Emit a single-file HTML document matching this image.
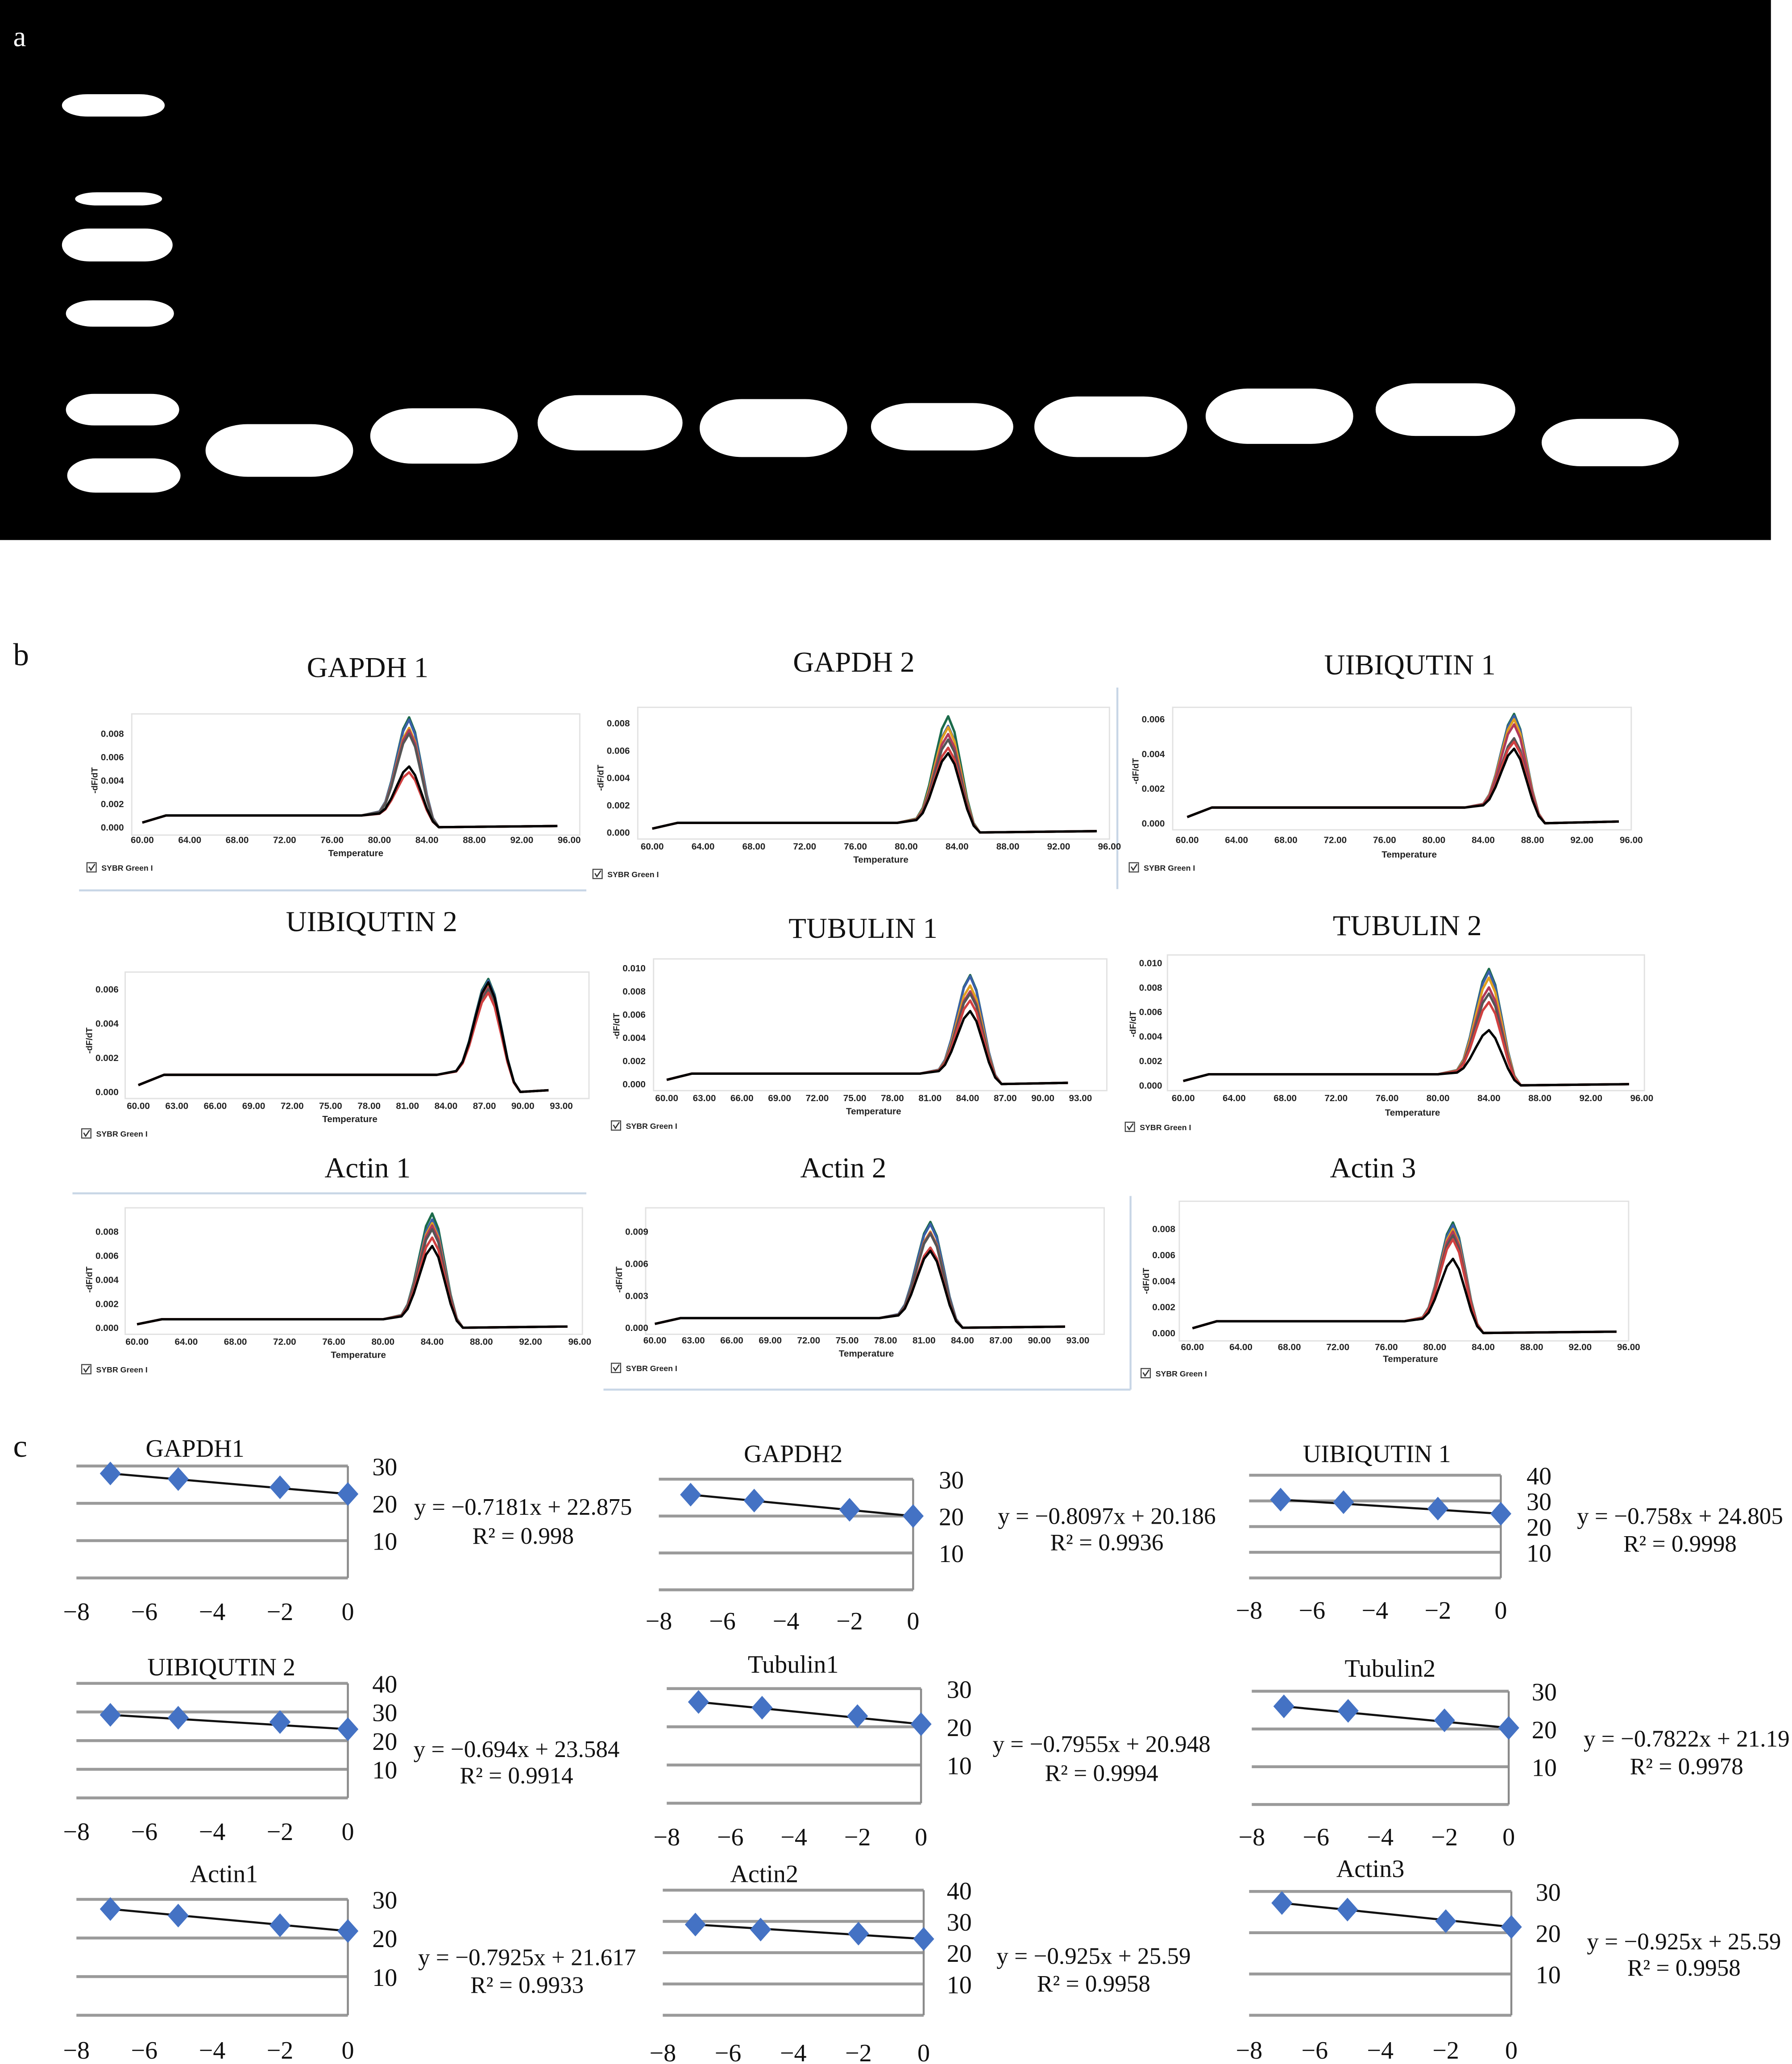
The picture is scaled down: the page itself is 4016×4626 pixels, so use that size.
<!DOCTYPE html>
<html><head><meta charset="utf-8">
<style>
html,body{margin:0;padding:0;background:#fff;}
svg{display:block;}
text{font-family:"Liberation Serif",serif;fill:#111;}
.sm{font-family:"Liberation Sans",sans-serif;font-weight:bold;fill:#222;}
</style></head>
<body>
<svg id="fig" width="4016" height="4626" viewBox="0 0 1360 1567" preserveAspectRatio="none" xmlns="http://www.w3.org/2000/svg">
<rect x="0" y="0" width="1360" height="1567" fill="#fff"/>
<g id="gel">
<rect x="0" y="0" width="1344" height="410" fill="#000"/>
<text x="10" y="35" font-size="22" style="fill:#fff">a</text>
</g>
<text x="10" y="505" font-size="24">b</text>
<text x="10" y="1106" font-size="24">c</text>
<g id="melt"></g>
<g id="std"></g>
</svg>
<script>
// ---- gel bands data ----
const ladderBands = [[86,80,78,17],[90,151,66,10],[89,186,84,25],[91,238,82,20],[93,311,86,24],[94,361,86,26]];
const sampleBands = [[212,342,112,40],[337,331,112,42],[463,321,110,42],[587,325,112,44],[715,324,108,36],[843,324,116,46],[971,316,112,42],[1097,311,106,40],[1222,336,104,36]];

// ---- melt curve data ----
const meltTitles = ["GAPDH 1","GAPDH 2","UIBIQUTIN 1","UIBIQUTIN 2","TUBULIN 1","TUBULIN 2","Actin 1","Actin 2","Actin 3"];
const meltPeakTemps = [82.5,83.3,86.5,87.3,84.2,84.0,84.0,81.5,81.5];
const meltPeakHeights = [
 [0.0094,0.0092,0.0085,0.0083,0.0080,0.0047,0.0052],
 [0.0085,0.0078,0.0077,0.0072,0.0068,0.0062,0.0058],
 [0.0063,0.0062,0.0060,0.0057,0.0049,0.0047,0.0043],
 [0.0066,0.0065,0.0063,0.0061,0.0060,0.0058,0.0064],
 [0.0094,0.0093,0.0085,0.0080,0.0078,0.0072,0.0063],
 [0.0095,0.0093,0.0088,0.0080,0.0075,0.0068,0.0045],
 [0.0095,0.0090,0.0087,0.0085,0.0082,0.0075,0.0068],
 [0.0099,0.0097,0.0090,0.0089,0.0088,0.0075,0.0072],
 [0.0085,0.0083,0.0080,0.0078,0.0075,0.0072,0.0057]];
const meltBaselines = [0.0010,0.0007,0.0009,0.0010,0.0009,0.0009,0.0007,0.0009,0.0009];
const seriesColors = ["#1b6b4a","#3a5fa8","#e0a020","#b03a5a","#555","#d04040","#000"];
const peakOffsets = [-4,-2.5,-2,-1.5,-1,-0.5,0,0.5,1,1.5,2,2.5];
const peakFractions = [0,0.04,0.14,0.35,0.62,0.88,1,0.87,0.58,0.28,0.07,0];
const baseFractions = [1,1,1,1,1,1,1,0.8,0.6,0.4,0.2,0];
const meltYTicks = [[0,0.002,0.004,0.006,0.008],[0,0.002,0.004,0.006,0.008],[0,0.002,0.004,0.006],[0,0.002,0.004,0.006],[0,0.002,0.004,0.006,0.008,0.010],[0,0.002,0.004,0.006,0.008,0.010],[0,0.002,0.004,0.006,0.008],[0,0.003,0.006,0.009],[0,0.002,0.004,0.006,0.008]];
const meltXTicksA = [60,64,68,72,76,80,84,88,92,96];
const meltXTicksB = [60,63,66,69,72,75,78,81,84,87,90,93];
const meltXTickSet = [0,0,0,1,1,0,0,1,0];
// layout (pixel geometry, not data)
const meltLayout = [
 {tx:279,ty:514,bx:100,bx2:440,by:542,by2:634,x0:108,x1:432,t1:96,y0:628,yt:557,lx:94,xl:640,tmp:650,cbx:66,cby:661,sep:[60,676,445,676]},
 {tx:648,ty:510,bx:484,bx2:842,by:537,by2:637,x0:495,x1:842,t1:96,y0:632,yt:549,lx:478,xl:645,tmp:655,cbx:450,cby:666,sep:[848,522,848,675]},
 {tx:1070,ty:512,bx:890,bx2:1238,by:537,by2:630,x0:901,x1:1238,t1:96,y0:625,yt:546,lx:884,xl:640,tmp:651,cbx:857,cby:661,sep:null},
 {tx:282,ty:707,bx:95,bx2:447,by:738,by2:834,x0:105,x1:426,t1:93,y0:829,yt:751,lx:90,xl:842,tmp:852,cbx:62,cby:863,sep:null},
 {tx:655,ty:712,bx:496,bx2:840,by:728,by2:828,x0:506,x1:820,t1:93,y0:823,yt:735,lx:490,xl:836,tmp:846,cbx:464,cby:857,sep:null},
 {tx:1068,ty:710,bx:886,bx2:1248,by:725,by2:828,x0:898,x1:1246,t1:96,y0:824,yt:731,lx:882,xl:836,tmp:847,cbx:854,cby:858,sep:null},
 {tx:279,ty:894,bx:95,bx2:442,by:917,by2:1013,x0:104,x1:440,t1:96,y0:1008,yt:935,lx:90,xl:1021,tmp:1031,cbx:62,cby:1042,sep:[55,906,445,906]},
 {tx:640,ty:894,bx:490,bx2:838,by:917,by2:1013,x0:497,x1:818,t1:93,y0:1008,yt:935,lx:492,xl:1020,tmp:1030,cbx:464,cby:1041,sep:[458,1055,858,1055]},
 {tx:1042,ty:894,bx:895,bx2:1236,by:912,by2:1018,x0:905,x1:1236,t1:96,y0:1012,yt:933,lx:892,xl:1025,tmp:1034,cbx:866,cby:1045,sep:[858,908,858,1055]}];

// ---- standard curve data ----
const stdTitles = ["GAPDH1","GAPDH2","UIBIQUTIN 1","UIBIQUTIN 2","Tubulin1","Tubulin2","Actin1","Actin2","Actin3"];
const stdX = [-7,-5,-2,0];
const stdY = [[28,26.5,24.3,22.5],[25.8,24.2,21.7,20],[30.5,29.5,27,25],[29,28,26.5,24],[26.5,25,22.8,20.7],[26,24.8,22.3,20.3],[27.5,25.8,23.3,21.8],[29,27.4,26.1,24.4],[27.2,25.6,22.8,21.4]];
const stdSlope = [-0.7181,-0.8097,-0.758,-0.694,-0.7955,-0.7822,-0.7925,-0.925,-0.925];
const stdIntercept = [22.875,20.186,24.805,23.584,20.948,21.19,21.617,25.59,25.59];
const stdR2 = ["0.998","0.9936","0.9998","0.9914","0.9994","0.9978","0.9933","0.9958","0.9958"];
const stdYMax = [30,30,40,40,30,30,30,40,30];
const stdXTicks = [-8,-6,-4,-2,0];
const stdLayout = [
 {x0:58,x1:264,top:1113,bot:1198,tx:148,ty:1106,lx:292,ex:397,ey:1150,ry:1172,xt:1230},
 {x0:500,x1:693,top:1123,bot:1207,tx:602,ty:1110,lx:722,ex:840,ey:1157,ry:1177,xt:1237},
 {x0:948,x1:1139,top:1120,bot:1198,tx:1045,ty:1110,lx:1168,ex:1275,ey:1157,ry:1178,xt:1229},
 {x0:58,x1:264,top:1278,bot:1365,tx:168,ty:1272,lx:292,ex:392,ey:1334,ry:1354,xt:1397},
 {x0:506,x1:699,top:1282,bot:1369,tx:602,ty:1270,lx:728,ex:836,ey:1330,ry:1352,xt:1401},
 {x0:950,x1:1145,top:1284,bot:1370,tx:1055,ty:1273,lx:1172,ex:1280,ey:1326,ry:1347,xt:1401},
 {x0:58,x1:264,top:1442,bot:1530,tx:170,ty:1429,lx:292,ex:400,ey:1492,ry:1513,xt:1563},
 {x0:503,x1:701,top:1435,bot:1530,tx:580,ty:1429,lx:728,ex:830,ey:1491,ry:1512,xt:1565},
 {x0:948,x1:1147,top:1436,bot:1530,tx:1040,ty:1425,lx:1175,ex:1278,ey:1480,ry:1500,xt:1563}];

const NS="http://www.w3.org/2000/svg";
function mk(tag, attrs, parent){const e=document.createElementNS(NS,tag);for(const k in attrs)e.setAttribute(k,attrs[k]);parent.appendChild(e);return e;}
function txt(s, attrs, parent){const e=mk('text',attrs,parent);e.textContent=s;return e;}

// gel
const gel=document.getElementById('gel');
ladderBands.forEach(b=>{
 const r=mk('rect',{x:b[0]-b[2]/2,y:b[1]-b[3]/2,width:b[2],height:b[3],rx:b[2]/4,ry:b[3]/2,fill:'#fff'},gel);
 
 
});
sampleBands.forEach(b=>{
 const r=mk('rect',{x:b[0]-b[2]/2,y:b[1]-b[3]/2,width:b[2],height:b[3],rx:b[2]/3.5,ry:b[3]/2,fill:'#fff'},gel);
 
 
});

// melt curves
const melt=document.getElementById('melt');
meltLayout.forEach((L,i)=>{
 const g=mk('g',{},melt);
 
 
 const t=txt(meltTitles[i],{x:L.tx,y:L.ty,'font-size':22,'text-anchor':'middle'},g);
 
 
 if(L.sep){const s=mk('line',{x1:L.sep[0],y1:L.sep[1],x2:L.sep[2],y2:L.sep[3],stroke:'#c8d6e6','stroke-width':1.5},g);
  
  }
 const box=mk('rect',{x:L.bx,y:L.by,width:L.bx2-L.bx,height:L.by2-L.by,fill:'#fff',stroke:'#e2e2e2','stroke-width':1},g);
 
 
 const yMax=meltYTicks[i][meltYTicks[i].length-1];
 const sx=T=>L.x0+(T-60)/(L.t1-60)*(L.x1-L.x0);
 const sy=v=>L.y0-v/yMax*(L.y0-L.yt);
 meltYTicks[i].forEach(v=>{
  const lb=txt(v.toFixed(3),{x:L.lx,y:sy(v)+2.5,'font-size':7,'text-anchor':'end',class:'sm'},g);
  
  
 });
 const ya=txt('-dF/dT',{x:0,y:0,'font-size':6.5,'text-anchor':'middle',class:'sm',transform:`translate(${L.lx-20},${(L.y0+L.yt)/2}) rotate(-90)`},g);
 
 
 const xt=meltXTickSet[i]?meltXTicksB:meltXTicksA;
 xt.forEach(T=>{
  const lb=txt(T.toFixed(2),{x:sx(T),y:L.xl,'font-size':7,'text-anchor':'middle',class:'sm'},g);
  
  
 });
 const xa=txt('Temperature',{x:(L.x0+L.x1)/2,y:L.tmp,'font-size':7,'text-anchor':'middle',class:'sm'},g);
 
 
 const cb=mk('rect',{x:L.cbx,y:L.cby-6,width:7,height:7,fill:'none',stroke:'#444','stroke-width':0.8},g);
 
 
 const ck=mk('path',{d:`M${L.cbx+1.5},${L.cby-3} L${L.cbx+3},${L.cby-0.5} L${L.cbx+6},${L.cby-5}`,fill:'none',stroke:'#333','stroke-width':0.9},g);
 
 
 const cl=txt('SYBR Green I',{x:L.cbx+11,y:L.cby,'font-size':6,class:'sm'},g);
 
 
 const P=meltPeakTemps[i], B=meltBaselines[i];
 meltPeakHeights[i].forEach((h,k)=>{
  const pts=[[60,B*0.4],[62,B]];
  peakOffsets.forEach((o,j)=>pts.push([P+o,B*baseFractions[j]+(h-B)*peakFractions[j]]));
  pts.push([L.t1-1,0.0001]);
  const d=pts.map((p,j)=>(j?'L':'M')+sx(p[0]).toFixed(1)+','+sy(p[1]).toFixed(1)).join('');
  const pl=mk('path',{d:d,fill:'none',stroke:seriesColors[k],'stroke-width':1.8,'stroke-linejoin':'round'},g);
  
  
 });
});

// standard curves
const std=document.getElementById('std');
stdLayout.forEach((L,i)=>{
 const g=mk('g',{},std);
 
 
 const ymax=stdYMax[i];
 const sx=x=>L.x0+(x+8)/8*(L.x1-L.x0);
 const sy=v=>L.bot-v/ymax*(L.bot-L.top);
 const t=txt(stdTitles[i],{x:L.tx,y:L.ty,'font-size':19,'text-anchor':'middle'},g);
 
 
 for(let v=0;v<=ymax;v+=10){
  const gl=mk('line',{x1:L.x0,y1:sy(v),x2:L.x1,y2:sy(v),stroke:'#9a9a9a','stroke-width':2.2},g);
  
  
  if(v>0){const lb=txt(String(v),{x:L.lx,y:sy(v)+7,'font-size':19,'text-anchor':'middle'},g);
   
   }
 }
 const ax=mk('line',{x1:L.x1,y1:L.top,x2:L.x1,y2:L.bot,stroke:'#8a8a8a','stroke-width':1.5},g);
 
 
 stdXTicks.forEach(x=>{
  const lb=txt(x<0?'\u2212'+(-x):String(x),{x:sx(x),y:L.xt,'font-size':19,'text-anchor':'middle'},g);
  
  
 });
 const ys=stdY[i];
 const tl=mk('line',{x1:sx(stdX[0]),y1:sy(ys[0]),x2:sx(stdX[stdX.length-1]),y2:sy(ys[ys.length-1]),stroke:'#111','stroke-width':1.6},g);
 
 
 stdX.forEach((x,k)=>{
  const cx=sx(x), cy=sy(ys[k]);
  const dm=mk('polygon',{points:`${cx},${cy-9} ${cx+8},${cy} ${cx},${cy+9} ${cx-8},${cy}`,fill:'#4472c4'},g);
  
  
 });
 const eq=txt('y = \u2212'+Math.abs(stdSlope[i])+'x + '+stdIntercept[i],{x:L.ex,y:L.ey,'font-size':18,'text-anchor':'middle'},g);
 
 
 const r2=txt('R\u00b2 = '+stdR2[i],{x:L.ex,y:L.ry,'font-size':18,'text-anchor':'middle'},g);
 
 
});
</script>
</body></html>
